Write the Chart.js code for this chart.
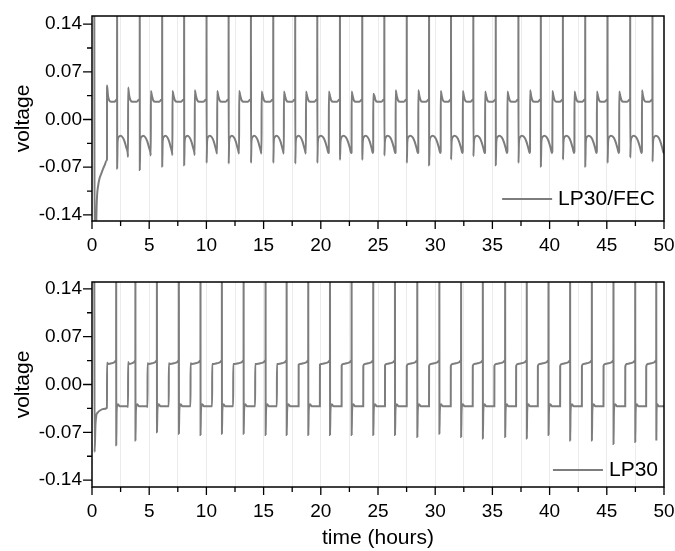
<!DOCTYPE html>
<html lang="en">
<head>
<meta charset="UTF-8">
<title>voltage vs time</title>
<script src="https://cdn.jsdelivr.net/npm/chart.js"></script>
<style>
  body { margin: 0; background: #fff; }
  .panel { position: absolute; left: 0; }
</style>
</head>
<body>
<canvas id="fecChart" class="panel" width="675" height="260" style="top:0"></canvas>
<canvas id="lpChart" class="panel" width="675" height="285" style="top:266px"></canvas>
<script>
// axis ticks
const xMajor = [0, 5, 10, 15, 20, 25, 30, 35, 40, 45, 50];
const xMinor = [2.5, 7.5, 12.5, 17.5, 22.5, 27.5, 32.5, 37.5, 42.5, 47.5];
const yMajor = [-0.14, -0.07, 0, 0.07, 0.14];
const yMinor = [-0.105, -0.035, 0.035, 0.105];

// LP30/FEC (top panel)
const fecStart = [[0.20, 0.20], [0.23, -0.20], [0.36, -0.16], [0.40, -0.13], [0.45, -0.11],
  [0.53, -0.098], [0.65, -0.087], [0.82, -0.079], [1.00, -0.071], [1.11, -0.067], [1.25, -0.061]];
const fecStepT = [1.31, 3.15, 5.14, 7.03, 8.98, 10.94, 12.86, 14.82, 16.77, 18.70, 20.70, 22.69, 24.58,
  26.54, 28.52, 30.48, 32.41, 34.36, 36.31, 38.29, 40.24, 42.17, 44.13, 46.08, 48.07];
const fecSpikeT = [2.19, 4.17, 6.13, 8.05, 10.01, 11.94, 13.89, 15.84, 17.76, 19.69, 21.67, 23.62, 25.55,
  27.51, 29.46, 31.38, 33.33, 35.29, 37.27, 39.23, 41.16, 43.11, 45.06, 47.04, 48.99];
const fecPeak = [0.050, 0.047, 0.042, 0.042, 0.043, 0.042, 0.042, 0.041, 0.041, 0.041, 0.041, 0.041, 0.038,
  0.043, 0.043, 0.042, 0.042, 0.041, 0.041, 0.043, 0.042, 0.041, 0.041, 0.041, 0.043];
const fecDip = [-0.072, -0.074, -0.069, -0.067, -0.064, -0.065, -0.064, -0.064, -0.065, -0.064, -0.059, -0.059, -0.053,
  -0.064, -0.067, -0.059, -0.054, -0.067, -0.064, -0.069, -0.059, -0.069, -0.064, -0.056, -0.062];
const fecLowEnd = [-0.058, -0.055, -0.053, -0.052, -0.052, -0.050, -0.050, -0.050, -0.050, -0.050, -0.048, -0.048, -0.047,
  -0.048, -0.048, -0.047, -0.047, -0.048, -0.047, -0.047, -0.047, -0.047, -0.047, -0.047, -0.047];
// one cycle's shape: [fraction of the half cycle, voltage]
const fecUpperShape = [[0.10, 0.035], [0.22, 0.028], [0.40, 0.026], [0.75, 0.026], [0.93, 0.029], [1.0, 0.031]];
const fecLowerShape = [[0.05, -0.033], [0.14, -0.026], [0.30, -0.024], [0.50, -0.026], [0.68, -0.032], [0.84, -0.041], [0.97, -0.049]];

// LP30 (bottom panel)
const lpStart = [[0.20, 0.20], [0.23, -0.099], [0.30, -0.060], [0.38, -0.045], [0.50, -0.041],
  [0.70, -0.038], [1.00, -0.036]];
const lpStepT = [1.31, 3.15, 4.85, 6.71, 8.61, 10.50, 12.34, 14.26, 16.16, 18.06, 19.92, 21.82, 23.71,
  25.61, 27.51, 29.46, 31.36, 33.28, 35.17, 37.07, 38.97, 40.92, 42.82, 44.71, 46.61, 48.44];
const lpSpikeT = [2.11, 3.79, 5.67, 7.59, 9.48, 11.35, 13.25, 15.17, 17.01, 18.90, 20.80, 22.69, 24.58,
  26.48, 28.43, 30.36, 32.26, 34.16, 36.11, 38.00, 39.90, 41.79, 43.69, 45.58, 47.48, 49.32];
const lpUpStart = [0.032, 0.033, 0.031, 0.031, 0.031, 0.030, 0.030, 0.030, 0.030, 0.029, 0.029, 0.028, 0.027,
  0.028, 0.027, 0.027, 0.027, 0.027, 0.027, 0.027, 0.027, 0.027, 0.027, 0.027, 0.026, 0.026];
const lpDip = [-0.089, -0.082, -0.070, -0.072, -0.074, -0.072, -0.072, -0.074, -0.074, -0.074, -0.074, -0.074, -0.074,
  -0.074, -0.077, -0.072, -0.077, -0.079, -0.077, -0.079, -0.074, -0.082, -0.082, -0.087, -0.084, -0.082];
const lpLowEnd = [-0.034, -0.033, -0.033, -0.032, -0.032, -0.032, -0.032, -0.032, -0.032, -0.032, -0.032, -0.032, -0.032,
  -0.032, -0.032, -0.032, -0.032, -0.032, -0.032, -0.032, -0.032, -0.032, -0.032, -0.032, -0.032, -0.032];
const lpUpperShape = [[0.15, 0.030], [0.50, 0.031], [0.85, 0.033], [0.97, 0.035], [1.0, 0.036]];
const lpLowerShape = [[0.04, -0.040], [0.09, -0.031], [0.16, -0.029], [0.30, -0.032], [0.97, -0.032]];

const spikeTop = 0.2;   // spikes run off the top of the frame
const endT = 50;

function buildSeries(start, steps, spikes, ups, dips, lows, upper, lower, lastLow) {
  const pts = start.map(([x, y]) => ({ x, y }));
  steps.forEach((a, i) => {
    const b = spikes[i];
    const next = i + 1 < steps.length ? steps[i + 1] : endT;
    pts.push({ x: a, y: lows[i] });
    pts.push({ x: a + 0.006, y: ups[i] });
    upper.forEach(([f, v]) => pts.push({ x: a + f * (b - a), y: v }));
    pts.push({ x: b + 0.004, y: spikeTop });
    pts.push({ x: b + 0.01, y: dips[i] });
    lower.forEach(([f, v]) => pts.push({ x: b + f * (next - b), y: v }));
  });
  pts.push({ x: endT, y: lastLow });
  return pts;
}

const fecData = buildSeries(fecStart, fecStepT, fecSpikeT, fecPeak, fecDip, fecLowEnd, fecUpperShape, fecLowerShape, -0.047);
const lpData = buildSeries(lpStart, lpStepT, lpSpikeT, lpUpStart, lpDip, lpLowEnd, lpUpperShape, lpLowerShape, -0.032);

const FONT = '"Liberation Sans", Arial, sans-serif';
const LINE = '#7d7d7d';

// frame, outward major/minor ticks and the small legend inside the plot
const framePlugin = {
  id: 'frame',
  afterDraw(chart, args, opts) {
    const { ctx, chartArea: ca, scales: { x, y } } = chart;
    ctx.save();
    ctx.strokeStyle = '#000';
    ctx.lineWidth = 1.5;
    ctx.strokeRect(ca.left, ca.top, ca.right - ca.left, ca.bottom - ca.top);
    ctx.lineWidth = 1.3;
    ctx.beginPath();
    xMajor.forEach(v => { const p = x.getPixelForValue(v); ctx.moveTo(p, ca.bottom); ctx.lineTo(p, ca.bottom + 8); });
    xMinor.forEach(v => { const p = x.getPixelForValue(v); ctx.moveTo(p, ca.bottom); ctx.lineTo(p, ca.bottom + 5); });
    yMajor.forEach(v => { const p = y.getPixelForValue(v); ctx.moveTo(ca.left, p); ctx.lineTo(ca.left - 9, p); });
    yMinor.forEach(v => { const p = y.getPixelForValue(v); ctx.moveTo(ca.left, p); ctx.lineTo(ca.left - 5, p); });
    ctx.stroke();

    const label = chart.data.datasets[0].label;
    ctx.font = '21px ' + FONT;
    ctx.textAlign = 'right';
    ctx.textBaseline = 'middle';
    const tx = ca.right - opts.right;
    const ty = ca.bottom - opts.bottom;
    const w = ctx.measureText(label).width;
    ctx.fillStyle = '#000';
    ctx.fillText(label, tx, ty);
    ctx.strokeStyle = LINE;
    ctx.lineWidth = 2;
    ctx.beginPath();
    ctx.moveTo(tx - w - 6, ty);
    ctx.lineTo(tx - w - 56, ty);
    ctx.stroke();
    ctx.restore();
  }
};

function makeChart(id, label, data, yMin, yMax, xHeight, showXTitle, legendPos) {
  return new Chart(document.getElementById(id), {
    type: 'scatter',
    data: {
      datasets: [{
        label: label,
        data: data,
        showLine: true,
        borderColor: LINE,
        borderWidth: 2,
        pointRadius: 0,
        fill: false,
        cubicInterpolationMode: 'monotone'
      }]
    },
    options: {
      responsive: false,
      animation: false,
      devicePixelRatio: 1,
      layout: { padding: { top: 16, right: 11, left: 0, bottom: 0 } },
      plugins: {
        legend: { display: false },
        tooltip: { enabled: false },
        frame: legendPos
      },
      scales: {
        x: {
          type: 'linear',
          min: 0,
          max: 50,
          afterBuildTicks: s => { s.ticks = xMajor.concat(xMinor).sort((a, b) => a - b).map(v => ({ value: v })); },
          afterFit: s => { s.height = xHeight; s.paddingLeft = 0; s.paddingRight = 0; },
          ticks: {
            autoSkip: false,
            maxRotation: 0,
            padding: 13,
            color: '#000',
            font: { family: FONT, size: 19 },
            callback: v => xMajor.includes(v) ? String(v) : ''
          },
          grid: {
            drawTicks: false,
            lineWidth: 1,
            color: c => (c.tick && c.tick.value > 0 && c.tick.value < 50) ? '#ebebeb' : 'rgba(0,0,0,0)'
          },
          border: { display: false },
          title: {
            display: showXTitle,
            text: 'time (hours)',
            color: '#000',
            font: { family: FONT, size: 21 },
            padding: { top: 0, bottom: 0 }
          }
        },
        y: {
          min: yMin,
          max: yMax,
          afterBuildTicks: s => { s.ticks = yMajor.concat(yMinor).sort((a, b) => a - b).map(v => ({ value: v })); },
          afterFit: s => { s.width = 92; s.paddingTop = 0; s.paddingBottom = 0; },
          ticks: {
            autoSkip: false,
            padding: 10,
            color: '#000',
            font: { family: FONT, size: 19 },
            callback: v => yMajor.includes(v) ? v.toFixed(2) : ''
          },
          grid: { display: false, drawTicks: false },
          border: { display: false },
          title: {
            display: true,
            text: 'voltage',
            color: '#000',
            font: { family: FONT, size: 21 },
            padding: { top: 11, bottom: 0 }
          }
        }
      }
    },
    plugins: [framePlugin]
  });
}

makeChart('fecChart', 'LP30/FEC', fecData, -0.149, 0.152, 39, false, { right: 9, bottom: 22 });
makeChart('lpChart', 'LP30', lpData, -0.15, 0.15, 64, true, { right: 6, bottom: 17 });
</script>
</body>
</html>
